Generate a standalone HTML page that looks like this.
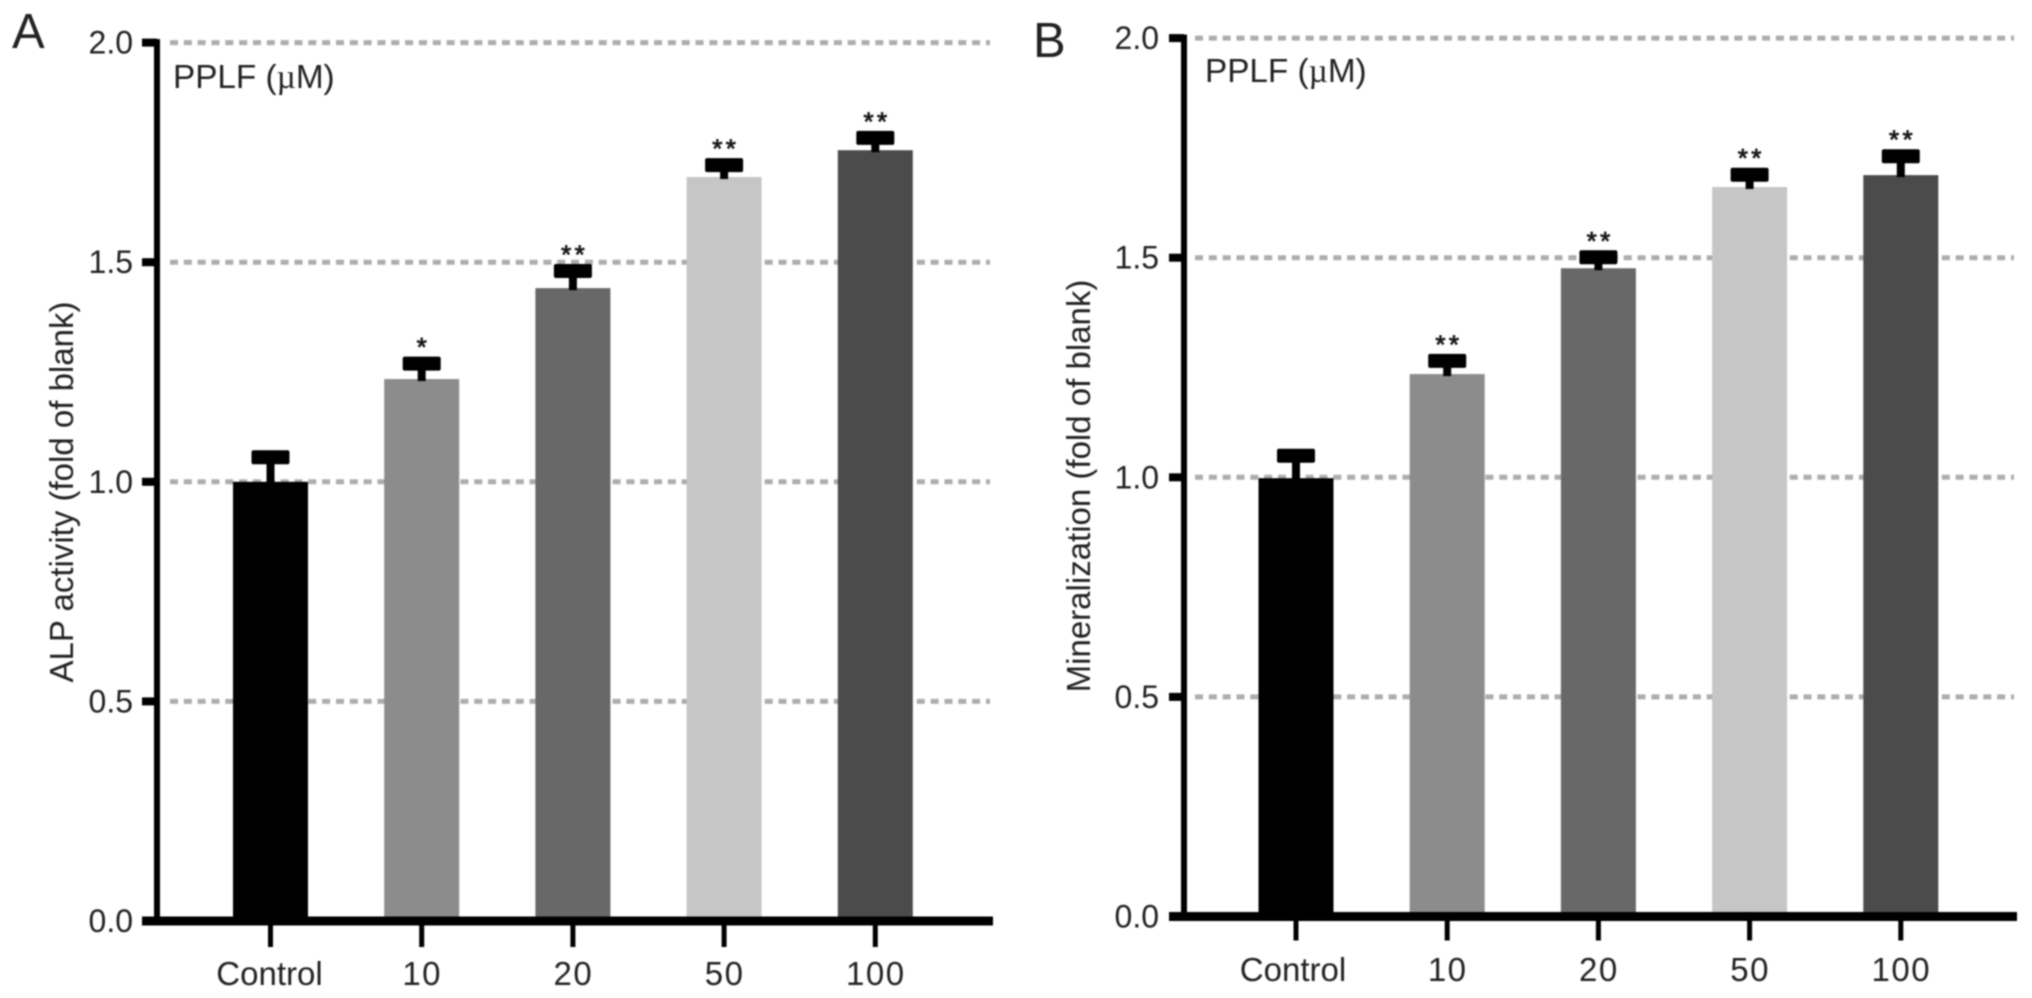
<!DOCTYPE html>
<html lang="en">
<head>
<meta charset="utf-8">
<title>PPLF ALP activity and mineralization</title>
<style>
  html, body { margin: 0; padding: 0; background: #fff; }
  #figure { display: block; filter: blur(0.8px); }
  text { font-family: "Liberation Sans", Arial, sans-serif; fill: #222; }
</style>
</head>
<body>
<svg id="figure" xmlns="http://www.w3.org/2000/svg" width="2032" height="998" viewBox="0 0 2032 998"></svg>
<script>
// ---- chart data ----
const categories = ['Control', '10', '20', '50', '100'];
const yTickValues = [0, 0.5, 1, 1.5, 2];
const yTickLabels = ['0.0', '0.5', '1.0', '1.5', '2.0'];
const alpValues = [1.0, 1.234, 1.441, 1.694, 1.755];
const alpErrors = [0.056, 0.035, 0.039, 0.027, 0.028];
const alpMarks = ['', '*', '**', '**', '**'];
const mineralValues = [0.998, 1.235, 1.476, 1.661, 1.688];
const mineralErrors = [0.051, 0.030, 0.025, 0.028, 0.043];
const mineralMarks = ['', '**', '**', '**', '**'];
const barShades = ['#000000', '#8c8c8c', '#686868', '#c6c6c6', '#4b4b4b'];

// ---- rendering ----
const NS = 'http://www.w3.org/2000/svg';
const svg = document.getElementById('figure');

function make(tag, attrs, parent) {
  const el = document.createElementNS(NS, tag);
  for (const k in attrs) el.setAttribute(k, attrs[k]);
  parent.appendChild(el);
  return el;
}

function drawPanel(p) {
  const g = make('g', {}, svg);
  
  

  const yScale = v => p.yZero - v * p.yPerUnit;
  const xScale = i => p.xFirst + i * p.xStep;

  // panel letter
  const letter = make('text', { x: p.letterX, y: p.letterY, 'font-size': 49 }, g);
  letter.textContent = p.letter;
  
  

  // grid lines
  yTickValues.forEach((v, i) => {
    if (v === 0) return;
    const line = make('line', {
      x1: p.gridStart, x2: p.gridEnd, y1: yScale(v), y2: yScale(v),
      stroke: '#adadad', 'stroke-width': 5, 'stroke-dasharray': '8 5.83'
    }, g);
    
    
  });

  // bars
  categories.forEach((c, i) => {
    const v = p.values[i];
    const bar = make('rect', {
      x: xScale(i) - p.barWidth / 2, y: yScale(v),
      width: p.barWidth, height: yScale(0) - yScale(v),
      fill: barShades[i]
    }, g);
    
    

    // error bar
    const top = yScale(v + p.errors[i]);
    const stem = make('rect', {
      x: xScale(i) - 4, y: top, width: 8, height: yScale(v) - top + 2, fill: '#000'
    }, g);
    
    

    const cap = make('rect', {
      x: xScale(i) - 19, y: top - 7, width: 38, height: 14, rx: 2, fill: '#000'
    }, g);
    
    

    // significance mark
    if (p.marks[i]) {
      const mark = make('text', {
        x: xScale(i) + 1.7, y: top - 7.5, 'font-size': 26, 'text-anchor': 'middle',
        'letter-spacing': 3.4, fill: '#111', stroke: '#111', 'stroke-width': 0.8
      }, g);
      mark.textContent = p.marks[i];
      
      
    }
  });

  // y axis
  const yAxis = make('rect', {
    x: p.axisX - 3, y: yScale(2) - 3.5, width: 6, height: yScale(0) - yScale(2) + 4, fill: '#000'
  }, g);
  
  

  yTickValues.forEach((v, i) => {
    const tick = make('rect', {
      x: p.axisX - 15, y: yScale(v) - 4, width: 15, height: 8, fill: '#000'
    }, g);
    
    

    const label = make('text', {
      x: p.labelRight, y: yScale(v) + 11, 'font-size': 32, 'text-anchor': 'end'
    }, g);
    label.textContent = yTickLabels[i];
    
    
  });

  // x axis
  const xAxis = make('rect', {
    x: p.axisX - 15, y: yScale(0) - 4.5, width: p.axisEnd - p.axisX + 15, height: 9, fill: '#000'
  }, g);
  
  

  categories.forEach((c, i) => {
    const tick = make('rect', {
      x: xScale(i) - 2.5, y: yScale(0), width: 5, height: p.xTickLen, fill: '#000'
    }, g);
    
    

    const numeric = i > 0;
    const label = make('text', {
      x: xScale(i) + (numeric ? 0.5 : p.controlShift), y: p.xLabelY, 'font-size': 33,
      'text-anchor': 'middle', 'letter-spacing': numeric ? 1.5 : 0
    }, g);
    label.textContent = c;
    
    
  });

  // in-plot annotation
  const note = make('text', { x: p.noteX, y: p.noteY, 'font-size': 33.3 }, g);
  
  
  note.appendChild(document.createTextNode('PPLF ('));
  const mu = make('tspan', { 'font-family': '"Liberation Serif", serif' }, note);
  mu.textContent = '\u00b5';
  note.appendChild(document.createTextNode('M)'));

  // y axis title
  const title = make('text', {
    transform: 'translate(' + p.titleX + ',' + p.titleY + ') rotate(-90)',
    'font-size': 33, 'text-anchor': 'middle'
  }, g);
  title.textContent = p.title;
  
  
}

drawPanel({
  id: 'alp', letter: 'A', letterX: 12, letterY: 48,
  title: 'ALP activity (fold of blank)', titleX: 73, titleY: 492,
  values: alpValues, errors: alpErrors, marks: alpMarks,
  yZero: 921, yPerUnit: 439.2, xFirst: 270.5, xStep: 151.2, barWidth: 75,
  axisX: 157, axisEnd: 993, labelRight: 133, gridStart: 170, gridEnd: 990,
  xTickLen: 26, xLabelY: 985, noteX: 173, noteY: 88, controlShift: -1
});

drawPanel({
  id: 'mineralization', letter: 'B', letterX: 1033, letterY: 57,
  title: 'Mineralization (fold of blank)', titleX: 1090, titleY: 486,
  values: mineralValues, errors: mineralErrors, marks: mineralMarks,
  yZero: 916.5, yPerUnit: 439.2, xFirst: 1296, xStep: 151.2, barWidth: 75,
  axisX: 1184, axisEnd: 2017, labelRight: 1159, gridStart: 1195, gridEnd: 2014,
  xTickLen: 24, xLabelY: 981, noteX: 1205, noteY: 82, controlShift: -3
});
</script>
</body>
</html>
